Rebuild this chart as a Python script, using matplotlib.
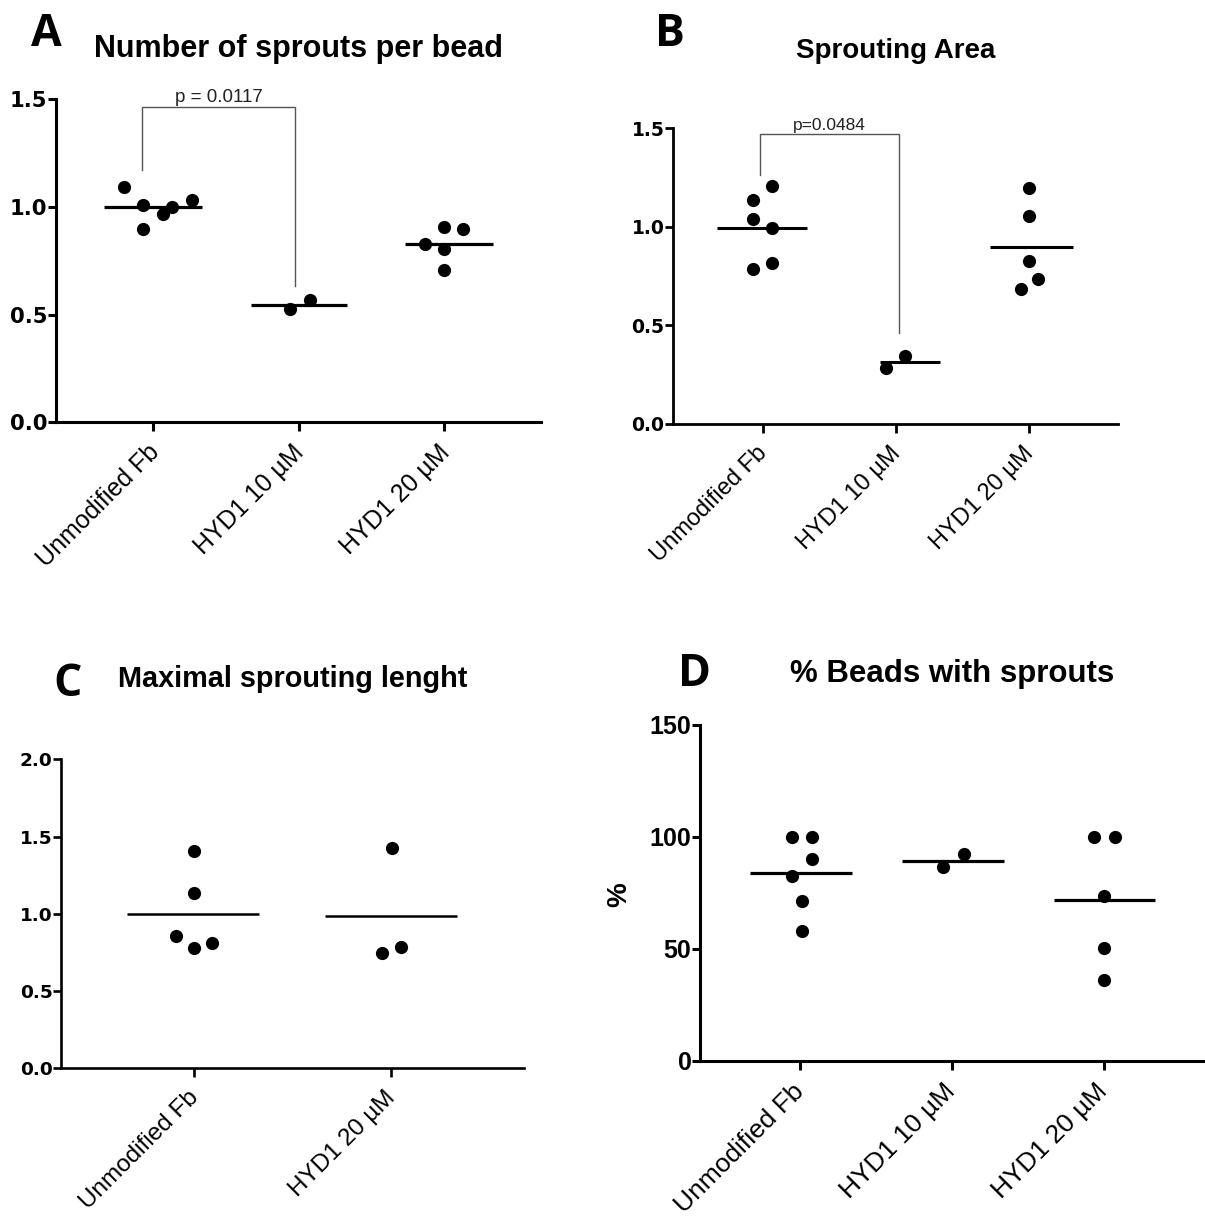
import numpy as np
import matplotlib
matplotlib.use("Agg")
import matplotlib.pyplot as plt
from matplotlib.transforms import ScaledTranslation

# ---- data -----------------------------------------------------------------
groups_abd = ["Unmodified Fb", "HYD1 10 µM", "HYD1 20 µM"]
groups_c = ["Unmodified Fb", "HYD1 20 µM"]

# A: number of sprouts per bead (normalised)
sprouts_unmod = [1.090, 1.008, 0.897, 0.966, 1.000, 1.031]
sprouts_hyd10 = [0.524, 0.567]
sprouts_hyd20 = [0.827, 0.908, 0.806, 0.707, 0.898]

# B: sprouting area (normalised)
area_unmod = [1.136, 1.207, 1.038, 0.996, 0.785, 0.815]
area_hyd10 = [0.282, 0.345]
area_hyd20 = [1.196, 1.055, 0.825, 0.734, 0.685]

# C: maximal sprouting length (normalised)
length_unmod = [1.407, 1.133, 0.857, 0.777, 0.809]
length_hyd20 = [1.424, 0.744, 0.787]

# D: % beads with sprouts
beads_unmod = [100.0, 100.0, 90.2, 82.7, 71.4, 58.2]
beads_hyd10 = [86.5, 92.4]
beads_hyd20 = [100.0, 100.0, 73.7, 50.3, 36.2]

p_text_a = "p = 0.0117"
p_text_b = "p=0.0484"

# ---- layout: horizontal scatter of points inside each column ---------------
jit_a = [[-0.20, -0.07, -0.07, 0.065, 0.13, 0.265], [-0.057, 0.076],
         [-0.13, 0.0, 0.0, 0.0, 0.135]]
jit_b = [[-0.07, 0.068, -0.07, 0.068, -0.07, 0.068], [-0.07, 0.068],
         [0.0, 0.0, 0.0, 0.07, -0.0625]]
jit_c = [[0.0, 0.0, -0.093, 0.0, 0.094], [0.004, -0.044, 0.049]]
jit_d = [[-0.058, 0.076, 0.076, -0.058, 0.008, 0.008], [-0.058, 0.076],
         [-0.063, 0.073, 0.0, 0.0, 0.0]]

span_a = [(-0.337, 0.332), (-0.325, 0.337), (-0.266, 0.337)]
span_b = [(-0.345, 0.33), (-0.12, 0.33), (-0.295, 0.33)]
span_c = [(-0.34, 0.33), (-0.334, 0.337)]
span_d = [(-0.33, 0.34), (-0.33, 0.34), (-0.33, 0.34)]

W, H = 1205, 1216
fig = plt.figure(figsize=(W / 100, H / 100), dpi=100)


def frac(left, right, bottom, top):
    return [left / W, 1 - bottom / H, (right - left) / W, (bottom - top) / H]


def panel(rect, series, jitter, spans, cats, ylim, yticks, ylabels, xlim,
          ytick_font, ytick_size, xtick_size, spine_w, mean_w, dx=-6.5):
    ax = fig.add_axes(rect)
    for i, (vals, jit, sp) in enumerate(zip(series, jitter, spans)):
        ax.plot(np.array(jit) + i, vals, "o", color="black", ms=9.5,
                mew=0, clip_on=False, zorder=3)
        ax.hlines(np.mean(vals), i + sp[0], i + sp[1], color="black",
                  lw=mean_w, zorder=2)
    ax.set_xlim(*xlim)
    ax.set_ylim(*ylim)
    for s in ("top", "right"):
        ax.spines[s].set_visible(False)
    for s in ("left", "bottom"):
        ax.spines[s].set_linewidth(spine_w)
    ax.set_yticks(yticks)
    ax.set_yticklabels(ylabels, fontfamily=ytick_font, fontweight="bold",
                       fontsize=ytick_size)
    ax.set_xticks(range(len(cats)))
    ax.set_xticklabels(cats, rotation=45, ha="right", va="top",
                       rotation_mode="anchor", fontfamily="Liberation Sans",
                       fontsize=xtick_size)
    ax.tick_params(axis="y", length=5.8, width=spine_w, pad=0.5)
    ax.tick_params(axis="x", length=6.6, width=spine_w, pad=6.4)
    shift = ScaledTranslation(dx / 100, 0, fig.dpi_scale_trans)
    for lab in ax.get_xticklabels():
        lab.set_transform(lab.get_transform() + shift)
    return ax


def bracket(ax, x0, x1, y0, y1, ytop, text, size):
    ax.plot([x0, x0, x1, x1], [y0, ytop, ytop, y1], color="#555555",
            lw=1.0, zorder=1, clip_on=False)
    ax.text((x0 + x1) / 2, ytop + 0.004, text, ha="center", va="bottom",
            fontfamily="Liberation Sans", fontsize=size, color="#222222")


# A
axA = panel(frac(56, 541, 422.3, 99),
            [sprouts_unmod, sprouts_hyd10, sprouts_hyd20], jit_a, span_a,
            groups_abd, (0, 1.5), [0, 0.5, 1.0, 1.5],
            ["0.0", "0.5", "1.0", "1.5"], (-0.67, 2.67),
            "DejaVu Sans", 15.2, 18, 2.2, 2.3)
bracket(axA, -0.079, 0.978, 1.171, 0.634, 1.464, p_text_a, 13.5)

# B
axB = panel(frac(673.3, 1118.3, 424, 128.3),
            [area_unmod, area_hyd10, area_hyd20], jit_b, span_b,
            groups_abd, (0, 1.5), [0, 0.5, 1.0, 1.5],
            ["0.0", "0.5", "1.0", "1.5"], (-0.67, 2.67),
            "DejaVu Sans", 13.5, 17, 2.0, 2.2)
bracket(axB, -0.02, 1.025, 1.263, 0.46, 1.470, p_text_b, 12.5)

# C
axC = panel(frac(61.3, 523.5, 1068.3, 759.3),
            [length_unmod, length_hyd20], jit_c, span_c,
            groups_c, (0, 2.0), [0, 0.5, 1.0, 1.5, 2.0],
            ["0.0", "0.5", "1.0", "1.5", "2.0"], (-0.673, 1.673),
            "DejaVu Sans", 13.3, 17.5, 1.9, 1.8)

# D
axD = panel(frac(700.2, 1205, 1061, 725),
            [beads_unmod, beads_hyd10, beads_hyd20], jit_d, span_d,
            groups_abd, (0, 150), [0, 50, 100, 150],
            ["0", "50", "100", "150"], (-0.661, 2.667),
            "Liberation Sans", 18, 19, 2.2, 2.3, dx=-9)
fig.text(619 / W, 1 - 895 / H, "%", rotation=90, ha="center", va="center",
         fontfamily="Liberation Sans", fontweight="bold", fontsize=20)

# titles
title_kw = dict(fontfamily="Liberation Sans", fontweight="bold",
                ha="center", va="baseline")
fig.text(298.5 / W, 1 - 57 / H, "Number of sprouts per bead", fontsize=22,
         **title_kw)
fig.text(896 / W, 1 - 58 / H, "Sprouting Area", fontsize=20, **title_kw)
fig.text(293 / W, 1 - 687 / H, "Maximal sprouting lenght", fontsize=20.8,
         **title_kw)
fig.text(952 / W, 1 - 682 / H, "% Beads with sprouts", fontsize=22.5,
         **title_kw)

# panel letters
letter_kw = dict(fontfamily="Open Sans", fontweight="bold", fontsize=32,
                 ha="center", va="center")
fig.text(46 / W, 1 - 34 / H, "A", **letter_kw)
fig.text(669.5 / W, 1 - 34 / H, "B", **letter_kw)
fig.text(67.5 / W, 1 - 684 / H, "C", **letter_kw)
fig.text(695 / W, 1 - 674 / H, "D", **letter_kw)

fig.savefig("out.png", dpi=100)
